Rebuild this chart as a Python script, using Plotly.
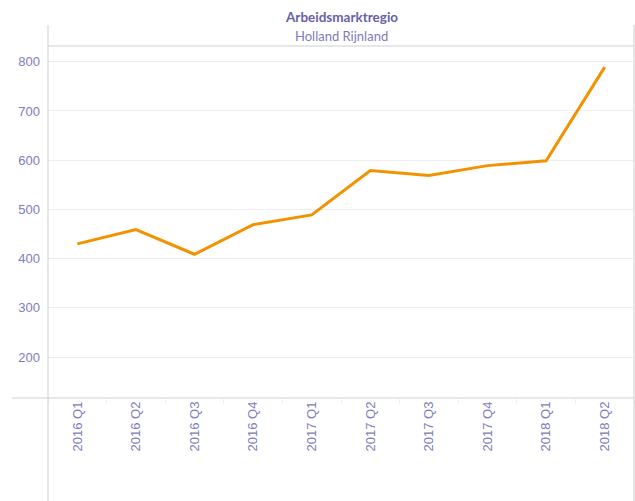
import plotly.graph_objects as go

quarters = ["2016 Q1", "2016 Q2", "2016 Q3", "2016 Q4", "2017 Q1",
            "2017 Q2", "2017 Q3", "2017 Q4", "2018 Q1", "2018 Q2"]
values = [430, 459, 409, 469, 489, 579, 569, 589, 599, 789]
y_ticks = [200, 300, 400, 500, 600, 700, 800]

W, H = 635, 501
ML, MR, MT, MB = 48, 1, 46, 103
pw = W - ML - MR
ph = H - MT - MB

def px(x):
    return (x - ML) / pw

def py(y):
    return (H - MB - y) / ph

text_col = "#7F7BBC"
grid_col = "#EFEFEF"
border_col = "#CFCFCF"
tick_font = "Liberation Sans, Arial, sans-serif"

fig = go.Figure(go.Scatter(
    x=quarters, y=values, mode="lines",
    line=dict(color="#F39200", width=3),
    hoverinfo="x+y",
))

fig.update_layout(
    width=W, height=H,
    margin=dict(l=ML, r=MR, t=MT, b=MB, pad=0),
    paper_bgcolor="white", plot_bgcolor="white",
    showlegend=False,
    font=dict(family=tick_font, color=text_col, size=13),
    xaxis=dict(
        type="category", range=[-0.5, 9.5],
        tickangle=-90, showgrid=False, zeroline=False, showline=False,
        ticks="outside", tickson="boundaries", ticklen=5, tickcolor="#F0F0F0",
        tickfont=dict(family=tick_font, size=13, color=text_col),
    ),
    yaxis=dict(
        range=[117, 832], tickvals=y_ticks,
        showgrid=True, gridcolor=grid_col, gridwidth=1,
        zeroline=False, showline=False, ticks="",
        ticklabelstandoff=7,
        tickfont=dict(family=tick_font, size=13, color=text_col),
    ),
    shapes=[
        dict(type="line", xref="paper", yref="paper",
             x0=0, x1=0, y0=py(501), y1=py(25),
             line=dict(color=border_col, width=1)),
        dict(type="line", xref="paper", yref="paper",
             x0=1, x1=1, y0=py(501), y1=py(25),
             line=dict(color=border_col, width=1)),
        dict(type="line", xref="paper", yref="paper",
             x0=0, x1=1, y0=1, y1=1,
             line=dict(color=border_col, width=1)),
        dict(type="line", xref="paper", yref="paper",
             x0=px(12), x1=1, y0=0, y1=0,
             line=dict(color=border_col, width=1)),
    ],
    annotations=[
        dict(text="<b>Arbeidsmarktregio</b>", xref="paper", yref="paper",
             x=0.5, y=py(17), showarrow=False, xanchor="center", yanchor="middle",
             font=dict(family="Lato, Open Sans, sans-serif", size=13.5, color="#6661A8")),
        dict(text="Holland Rijnland", xref="paper", yref="paper",
             x=0.5, y=py(36), showarrow=False, xanchor="center", yanchor="middle",
             font=dict(family="Lato, Open Sans, sans-serif", size=13, color=text_col)),
    ],
)

fig.write_html("out.html", config={"displayModeBar": False},
               post_script="document.body.style.margin='0';document.body.style.overflow='hidden';")
